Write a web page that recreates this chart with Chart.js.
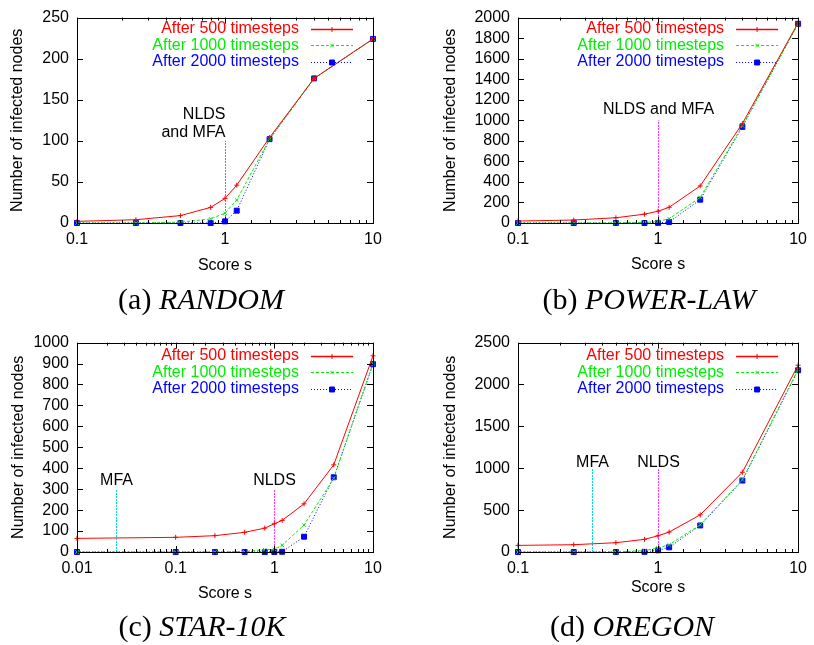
<!DOCTYPE html>
<html>
<head>
<meta charset="utf-8">
<script src="https://cdn.jsdelivr.net/npm/chart.js@4.4.1/dist/chart.umd.min.js"></script>
<style>
  body { margin: 0; background: #fff; width: 814px; height: 645px; position: relative; overflow: hidden; }
  .panel { position: absolute; width: 407px; height: 285px; }
  .cap { position: absolute; font-family: "Liberation Serif", "Times New Roman", serif; font-size: 30px;
         transform: translate(-50%, -50%); white-space: nowrap; color: #000; }
  .cap i { font-style: italic; }
</style>
</head>
<body>
<div class="panel" style="left:0;top:0"><canvas id="chart-random" width="407" height="285"></canvas></div>
<div class="panel" style="left:407px;top:0"><canvas id="chart-power" width="407" height="285"></canvas></div>
<div class="panel" style="left:0;top:325px"><canvas id="chart-star" width="407" height="285"></canvas></div>
<div class="panel" style="left:407px;top:325px"><canvas id="chart-oregon" width="407" height="285"></canvas></div>
<div class="cap" style="left:201px;top:299px">(a) <i>RANDOM</i></div>
<div class="cap" style="left:649px;top:299px">(b) <i>POWER-LAW</i></div>
<div class="cap" style="left:202px;top:626px">(c) <i>STAR-10K</i></div>
<div class="cap" style="left:632px;top:626px">(d) <i>OREGON</i></div>

<script>
// score values on the x axis
var scoreX = [0.1, 0.25, 0.5, 0.8, 1, 1.2, 2, 4, 10];
var scoreXStar = [0.01, 0.1, 0.25, 0.5, 0.8, 1, 1.2, 2, 4, 10];
var seriesNames = ['After 500 timesteps', 'After 1000 timesteps', 'After 2000 timesteps'];

// (a) RANDOM
var randomT500  = [2, 4, 9, 19, 30, 46, 104, 176, 224];
var randomT1000 = [0, 0, 1, 5, 12, 28, 102, 176, 224];
var randomT2000 = [0, 0, 0, 0, 2, 15, 102, 176, 224];
var randomYTicks = [0, 50, 100, 150, 200, 250];

// (b) POWER-LAW
var powerT500  = [19, 29, 51, 86, 115, 153, 361, 968, 1949];
var powerT1000 = [0, 0, 2, 5, 15, 42, 249, 946, 1940];
var powerT2000 = [0, 0, 0, 0, 1, 10, 227, 936, 1940];
var powerYTicks = [0, 200, 400, 600, 800, 1000, 1200, 1400, 1600, 1800, 2000];

// (c) STAR-10K
var starT500  = [65, 70, 78, 94, 114, 135, 151, 230, 416, 937];
var starT1000 = [0, 0, 0, 2, 11, 13, 32, 129, 352, 900];
var starT2000 = [0, 0, 0, 0, 0, 0, 1, 73, 357, 897];
var starYTicks = [0, 100, 200, 300, 400, 500, 600, 700, 800, 900, 1000];

// (d) OREGON
var oregonT500  = [79, 87, 111, 151, 194, 238, 444, 952, 2230];
var oregonT1000 = [0, 0, 2, 16, 48, 87, 325, 861, 2180];
var oregonT2000 = [0, 0, 0, 2, 20, 56, 317, 853, 2170];
var oregonYTicks = [0, 500, 1000, 1500, 2000, 2500];

// where NLDS / MFA pick their score
var randomMarks = [{x: 1, top: 100, kind: 'nlds', text: ['NLDS', 'and MFA'], textY: [132, 110], align: 'right'}];
var powerMarks  = [{x: 1, top: 1000, kind: 'nlds', text: ['NLDS and MFA'], textY: [1100], align: 'center'}];
var starMarks   = [{x: 0.025, top: 300, kind: 'mfa', text: ['MFA'], textY: [343], align: 'center'},
                   {x: 1, top: 300, kind: 'nlds', text: ['NLDS'], textY: [343], align: 'center'}];
var oregonMarks = [{x: 0.34, top: 1000, kind: 'mfa', text: ['MFA'], textY: [1071], align: 'center'},
                   {x: 1, top: 1000, kind: 'nlds', text: ['NLDS'], textY: [1071], align: 'center'}];

Chart.defaults.font.family = '"Liberation Sans", Arial, sans-serif';
Chart.defaults.font.size = 16;
Chart.defaults.color = '#000';

var seriesStyle = [
  {color: '#ff0000', dash: [], point: 'cross', radius: 2.5},
  {color: '#00ee00', dash: [3, 2], point: 'crossRot', radius: 2.5},
  {color: '#0000ff', dash: [1, 2], point: 'rect', radius: 3.5}
];
var markColors = {nlds: '#ff33ff', mfa: '#00dddd'};

function makeDataset(xs, ys, i) {
  var st = seriesStyle[i];
  return {
    label: seriesNames[i],
    data: xs.map(function(x, k) { return {x: x, y: ys[k]}; }),
    borderColor: st.color,
    backgroundColor: st.color,
    borderWidth: 1,
    borderDash: st.dash,
    pointStyle: st.point,
    pointRadius: st.radius,
    pointBorderWidth: 1,
    pointBorderColor: st.color,
    pointBackgroundColor: st.color,
    tension: 0,
    clip: false
  };
}

function isDecade(v) {
  var l = Math.log10(v);
  return Math.abs(l - Math.round(l)) < 1e-6;
}

var gnuplotLook = {
  id: 'gnuplot',
  beforeDatasetsDraw: function(chart, args, opts) {
    var ctx = chart.ctx, xs = chart.scales.x, ys = chart.scales.y;
    ctx.save();
    (opts.marks || []).forEach(function(m) {
      var px = Math.round(xs.getPixelForValue(m.x)) + 0.5;
      ctx.strokeStyle = markColors[m.kind];
      ctx.lineWidth = 1;
      ctx.setLineDash([2, 1]);
      ctx.beginPath();
      ctx.moveTo(px, ys.getPixelForValue(0));
      ctx.lineTo(px, ys.getPixelForValue(m.top));
      ctx.stroke();
      ctx.setLineDash([]);
      ctx.fillStyle = '#000';
      ctx.font = '16px "Liberation Sans", Arial, sans-serif';
      ctx.textAlign = m.align;
      ctx.textBaseline = 'middle';
      m.text.forEach(function(t, k) {
        ctx.fillText(t, px, ys.getPixelForValue(m.textY[k]));
      });
    });
    ctx.restore();
  },
  afterDatasetsDraw: function(chart, args, opts) {
    var ctx = chart.ctx, a = chart.chartArea, xs = chart.scales.x, ys = chart.scales.y;
    ctx.save();
    ctx.strokeStyle = '#000';
    ctx.lineWidth = 1;
    ctx.strokeRect(Math.round(a.left) + 0.5, Math.round(a.top) + 0.5,
                   Math.round(a.right - a.left), Math.round(a.bottom - a.top));
    ctx.beginPath();
    xs.ticks.forEach(function(t) {
      var px = Math.round(xs.getPixelForValue(t.value)) + 0.5;
      var len = isDecade(t.value) ? 6 : 3;
      ctx.moveTo(px, a.bottom); ctx.lineTo(px, a.bottom - len);
      ctx.moveTo(px, a.top); ctx.lineTo(px, a.top + len);
    });
    ys.ticks.forEach(function(t) {
      var py = Math.round(ys.getPixelForValue(t.value)) + 0.5;
      ctx.moveTo(a.left, py); ctx.lineTo(a.left + 6, py);
      ctx.moveTo(a.right, py); ctx.lineTo(a.right - 6, py);
    });
    ctx.stroke();

    // gnuplot style key, top right inside the frame
    ctx.font = '16px "Liberation Sans", Arial, sans-serif';
    ctx.textAlign = 'right';
    ctx.textBaseline = 'middle';
    chart.data.datasets.forEach(function(ds, i) {
      var st = seriesStyle[i];
      var y = a.top + opts.keyTop + i * 16.5;
      ctx.fillStyle = st.color;
      ctx.fillText(ds.label, a.right - 74, y);
      ctx.strokeStyle = st.color;
      ctx.lineWidth = i === 0 ? 1.3 : 1;
      ctx.setLineDash(st.dash);
      ctx.beginPath();
      ctx.moveTo(a.right - 62, Math.round(y) + 0.5);
      ctx.lineTo(a.right - 20, Math.round(y) + 0.5);
      ctx.stroke();
      ctx.setLineDash([]);
      ctx.lineWidth = 1;
      Chart.helpers.drawPoint(ctx, {pointStyle: st.point, radius: st.radius, borderWidth: 1, rotation: 0},
                              a.right - 41, Math.round(y) + 0.5);
    });
    ctx.restore();
  }
};

function buildChart(id, xs, series, yTicks, xMin, marks, lay) {
  new Chart(document.getElementById(id), {
    type: 'line',
    data: { datasets: series.map(function(ys, i) { return makeDataset(xs, ys, i); }) },
    options: {
      responsive: false,
      animation: false,
      layout: { autoPadding: false, padding: {top: lay.top, right: lay.right, left: 0, bottom: 0} },
      plugins: {
        legend: { display: false },
        tooltip: { enabled: false },
        gnuplot: { marks: marks, keyTop: lay.keyTop }
      },
      scales: {
        x: {
          type: 'logarithmic',
          min: xMin,
          max: 10,
          grid: { display: false, drawTicks: false },
          border: { display: false },
          ticks: {
            autoSkip: false, maxRotation: 0, padding: 7,
            callback: function(v) { return isDecade(v) ? String(Number(v.toPrecision(3))) : ''; }
          },
          title: { display: true, text: 'Score s', padding: {top: 0, bottom: lay.xTitlePad} },
          afterFit: function(s) { s.height = lay.bottomH; }
        },
        y: {
          type: 'linear',
          min: yTicks[0],
          max: yTicks[yTicks.length - 1],
          grid: { display: false, drawTicks: false },
          border: { display: false },
          ticks: { padding: 8, autoSkip: false, callback: function(v) { return String(v); } },
          afterBuildTicks: function(s) { s.ticks = yTicks.map(function(v) { return {value: v}; }); },
          title: { display: true, text: 'Number of infected nodes', padding: {top: lay.yTitlePad, bottom: 0} },
          afterFit: function(s) { s.width = lay.leftW; }
        }
      }
    },
    plugins: [gnuplotLook]
  });
}

buildChart('chart-random', scoreX, [randomT500, randomT1000, randomT2000], randomYTicks, 0.1, randomMarks,
  {top: 14, right: 34, leftW: 77, bottomH: 62, xTitlePad: 10, yTitlePad: 8, keyTop: 11});
buildChart('chart-power', scoreX, [powerT500, powerT1000, powerT2000], powerYTicks, 0.1, powerMarks,
  {top: 14, right: 9, leftW: 111, bottomH: 62, xTitlePad: 11, yTitlePad: 34, keyTop: 11});
buildChart('chart-star', scoreXStar, [starT500, starT1000, starT2000], starYTicks, 0.01, starMarks,
  {top: 17, right: 34, leftW: 77, bottomH: 58, xTitlePad: 7, yTitlePad: 9, keyTop: 13});
buildChart('chart-oregon', scoreX, [oregonT500, oregonT1000, oregonT2000], oregonYTicks, 0.1, oregonMarks,
  {top: 17, right: 9, leftW: 111, bottomH: 58, xTitlePad: 13, yTitlePad: 34, keyTop: 13});
</script>
</body>
</html>
